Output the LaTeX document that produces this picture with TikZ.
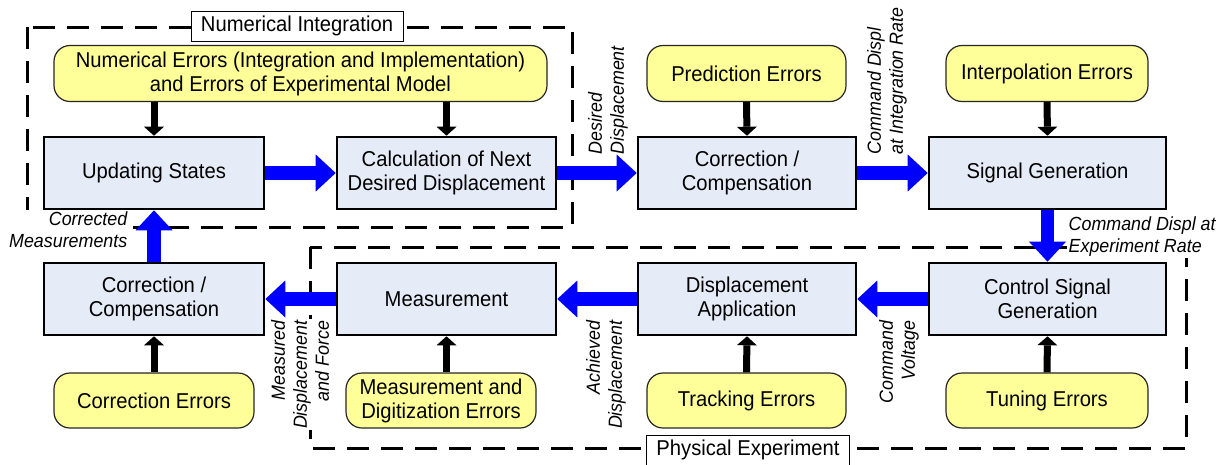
\documentclass[tikz,border=0pt]{standalone}
\usepackage{fontspec}
\setmainfont{Liberation Sans}[FakeStretch=0.94]
\usetikzlibrary{arrows.meta}
\definecolor{boxfill}{RGB}{230,236,247}
\definecolor{errfill}{RGB}{255,255,153}
\definecolor{flowblue}{RGB}{0,0,255}
\begin{document}
\begin{tikzpicture}[x=1pt,y=-1pt,
  stage/.style={draw, line width=2.6pt, fill=boxfill, minimum width=#1,
    minimum height=72pt, align=center, inner sep=0pt,
    font=\fontsize{21.5}{24}\selectfont},
  err/.style={draw=black!85, line width=1.2pt, fill=errfill, rounded corners=16pt,
    minimum width=#1, minimum height=56pt, align=center, inner sep=0pt,
    font=\fontsize{21.5}{24}\selectfont},
  flow/.style={draw=flowblue, line width=13.5pt,
    -{Triangle[width=37pt,length=20pt,line width=0pt]}, flowblue},
  feed/.style={draw=black, line width=7pt,
    -{Triangle[width=20pt,length=9pt,line width=0pt]}},
  frame/.style={draw, line width=3pt, dash pattern=on 22pt off 12pt},
  tag/.style={draw, line width=0.9pt, fill=white, inner xsep=10pt, inner ysep=0pt,
    minimum height=30pt, font=\fontsize{21.5}{24}\selectfont},
  lab/.style={inner sep=1.5pt, fill=white, font=\fontsize{19}{22}\selectfont\itshape}]
\useasboundingbox (0,0) rectangle (1225,464);

% dashed frames of the two domains
\draw[frame] (27,27) rectangle (572,227);
\draw[frame] (310,247) rectangle (1186,448);

% error sources
\node[err=493pt] (ne)  at (300.5,73.5) {Numerical Errors (Integration and Implementation)\\and Errors of Experimental Model};
\node[err=199pt] (pe)  at (746.5,73.5) {Prediction Errors};
\node[err=202pt] (ie)  at (1047,73.5)  {Interpolation Errors};
\node[err=200pt, minimum height=55pt] (ce)  at (154,400.5)  {Correction Errors};
\node[err=190pt, minimum height=55pt] (mde) at (441,400.5)  {Measurement and\\Digitization Errors};
\node[err=199pt, minimum height=55pt] (te)  at (746.5,400.5) {Tracking Errors};
\node[err=202pt, minimum height=55pt] (tue) at (1047,400.5) {Tuning Errors};

% processing stages
\node[stage=220pt] (us)   at (154,173)    {Updating States};
\node[stage=219pt] (calc) at (446.5,173)  {Calculation of Next\\Desired Displacement};
\node[stage=218pt] (cc1)  at (747,173)    {Correction /\\Compensation};
\node[stage=237pt] (sg)   at (1047.5,173) {Signal Generation};
\node[stage=220pt] (cc2)  at (154,299)    {Correction /\\Compensation};
\node[stage=219pt] (meas) at (446.5,299)  {Measurement};
\node[stage=218pt] (da)   at (747,299)    {Displacement\\Application};
\node[stage=237pt] (csg)  at (1047.5,299) {Control Signal\\Generation};

% error inputs
\draw[feed] (ne.south -| us.north) -- (us.north);
\draw[feed] (ne.south -| calc.north) -- (calc.north);
\draw[feed] (pe.south) -- (cc1.north);
\draw[feed] (ie.south) -- (sg.north);
\draw[feed] (ce.north) -- (cc2.south);
\draw[feed] (mde.north -| meas.south) -- (meas.south);
\draw[feed] (te.north) -- (da.south);
\draw[feed] (tue.north) -- (csg.south);

% flow labels (white backing hides the frame lines they cross)
\node[lab, rotate=90, anchor=west, align=left] at (608,156) {Desired\\Displacement};
\node[lab, rotate=90, anchor=west, align=left] at (887,156) {Command Displ\\at Integration Rate};
\node[lab, anchor=north west, align=left] at (1067,215) {Command Displ at\\Experiment Rate};
\node[lab, rotate=90, anchor=east, align=right] at (899,319) {Command\\Voltage};
\node[lab, rotate=90, anchor=east, align=right] at (606,319) {Achieved\\Displacement};
\node[lab, rotate=90, anchor=east, align=right] at (300,319) {Measured\\Displacement\\and Force};
\node[lab, anchor=north east, align=right] at (129,210) {Corrected\\Measurements};

% signal flow
\draw[flow] (us.east) -- (calc.west);
\draw[flow] (calc.east) -- (cc1.west);
\draw[flow] (cc1.east) -- (sg.west);
\draw[flow] (sg.south) -- (csg.north);
\draw[flow] (csg.west) -- (da.east);
\draw[flow] (da.west) -- (meas.east);
\draw[flow] (meas.west) -- (cc2.east);
\draw[flow] (cc2.north) -- (us.south);

% frame titles
\node[tag] (nit) at (297,26) {Numerical Integration};
\node[tag] (pet) at (748,450) {Physical Experiment};
\end{tikzpicture}
\end{document}
